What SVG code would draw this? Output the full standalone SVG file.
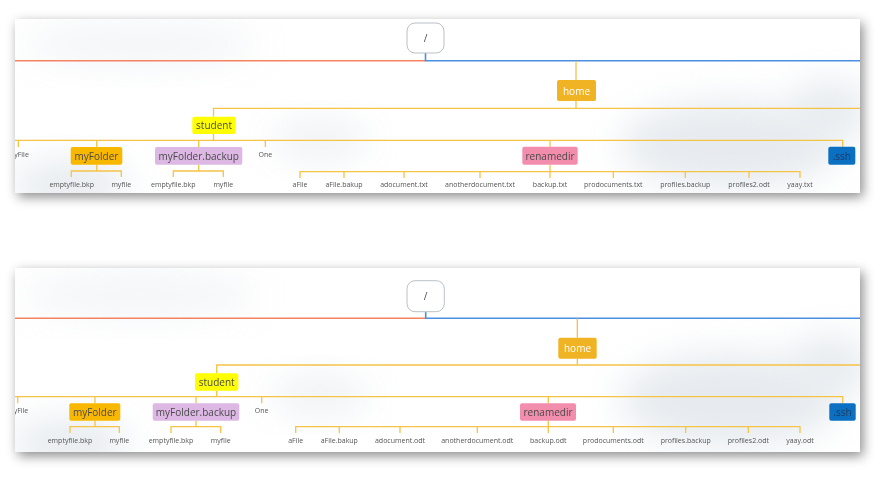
<svg xmlns="http://www.w3.org/2000/svg" width="887" height="486" viewBox="0 0 887 486">
<defs>
<filter id="shadow" x="-10%" y="-20%" width="120%" height="150%">
<feDropShadow dx="3" dy="4" stdDeviation="6" flood-color="#000" flood-opacity="0.45"/>
</filter>
<filter id="blur" x="-50%" y="-50%" width="200%" height="200%">
<feGaussianBlur stdDeviation="18"/>
</filter>
<clipPath id="c1"><rect x="15" y="19" width="845" height="174"/></clipPath>
<clipPath id="c2"><rect x="15" y="268" width="845" height="184"/></clipPath>
</defs>
<style>
.card{fill:#ffffff}
.cloud{fill:#c9d3dc;filter:url(#blur)}
.org{stroke:#f4845f;stroke-width:1.6;fill:none}
.blu{stroke:#4a8fe0;stroke-width:1.6;fill:none}
.yel{stroke:#f5c445;stroke-width:1.3;fill:none}
.root{fill:#ffffff;stroke:#b9c0c8;stroke-width:1}
.nt{font-family:"Open Sans","Noto Sans",sans-serif;font-size:10px;fill:#4a4a4a;text-anchor:middle;dominant-baseline:central}
.lf{font-family:"Open Sans","Noto Sans",sans-serif;font-size:7px;fill:#555;text-anchor:middle;dominant-baseline:central}
.home{fill:#f0b323}
.student{fill:#ffff00}
.myf{fill:#f9b800}
.mfb{fill:#ddb8e4}
.ren{fill:#f28dae}
.ssh{fill:#0b6fc2}
</style>
<rect width="887" height="486" fill="#ffffff"/>
<rect class="card" x="15" y="19" width="845" height="174" filter="url(#shadow)"/>
<rect class="card" x="15" y="268" width="845" height="184" filter="url(#shadow)"/>

<g id="panel-top" clip-path="url(#c1)">
<g id="bg-top" opacity="0.45">
<ellipse class="cloud" cx="140" cy="45" rx="120" ry="22" opacity="0.5"/>
<ellipse class="cloud" cx="70" cy="185" rx="60" ry="25"/>
<ellipse class="cloud" cx="320" cy="140" rx="50" ry="20" opacity="0.7"/>
<ellipse class="cloud" cx="730" cy="145" rx="110" ry="45"/>
<ellipse class="cloud" cx="830" cy="110" rx="40" ry="30"/>
</g>
<g id="connectors-top">
<path class="org" d="M15 60.7H425.5"/>
<path class="blu" d="M425.5 53V60.7H860"/>
<path class="yel" d="M576 61V80M576 101V108.3"/>
<path class="yel" d="M213.5 116.7V108.3H860"/>
<path class="yel" d="M213.5 134V140.3"/>
<path class="yel" d="M10 140.3H842.7V146.7"/>
<path class="yel" d="M18.3 140.3V147M96.7 140.3V147M198.7 140.3V147M265.3 140.3V147M550 140.3V146.7"/>
<path class="yel" d="M96.7 164.7V171M71.3 177V171H121.3V177"/>
<path class="yel" d="M198.7 164.7V171M173.3 177V171H223.3V177"/>
<path class="yel" d="M550 164.7V178M300 178V171.7H800V178M344 171.7V178M404 171.7V178M480 171.7V178M613.3 171.7V178M685.3 171.7V178M749 171.7V178"/>
</g>
<g id="root-top"><rect class="root" x="407" y="23" width="37" height="30" rx="8"/><text class="nt" x="425.5" y="38">/</text></g>
<g id="home-top"><rect class="home" x="557" y="80" width="39" height="21" rx="2"/><text class="nt" x="576.5" y="90.5" style="fill:#fff">home</text></g>
<g id="student-top"><rect class="student" x="192.3" y="116.7" width="43.4" height="17.3" rx="2"/><text class="nt" x="214" y="125.3">student</text></g>
<g id="myFile-top"><text class="lf" x="18.3" y="154.3">myFile</text></g>
<g id="myFolder-top"><rect class="myf" x="70.7" y="147" width="51.6" height="17.7" rx="2"/><text class="nt" x="96.5" y="155.8">myFolder</text></g>
<g id="myFolderBackup-top"><rect class="mfb" x="155" y="147" width="87.3" height="17.7" rx="2"/><text class="nt" x="198.7" y="155.8">myFolder.backup</text></g>
<g id="One-top"><text class="lf" x="265.3" y="154.3">One</text></g>
<g id="renamedir-top"><rect class="ren" x="522.3" y="146.7" width="55.4" height="18" rx="2"/><text class="nt" x="550" y="155.7">renamedir</text></g>
<g id="ssh-top"><rect class="ssh" x="828.3" y="146.7" width="27" height="18" rx="2"/><text class="nt" x="841.8" y="155.7" style="fill:#1c3b63">.ssh</text></g>
<g id="leaves-top">
<text class="lf" x="71.7" y="184.3">emptyfile.bkp</text>
<text class="lf" x="121.3" y="184.3">myfile</text>
<text class="lf" x="173.3" y="184.3">emptyfile.bkp</text>
<text class="lf" x="223.3" y="184.3">myfile</text>
<text class="lf" x="300" y="184.3">aFile</text>
<text class="lf" x="344" y="184.3">aFile.bakup</text>
<text class="lf" x="404" y="184.3">adocument.txt</text>
<text class="lf" x="480" y="184.3">anotherdocument.txt</text>
<text class="lf" x="550" y="184.3">backup.txt</text>
<text class="lf" x="613.3" y="184.3">prodocuments.txt</text>
<text class="lf" x="685.3" y="184.3">profiles.backup</text>
<text class="lf" x="749" y="184.3">profiles2.odt</text>
<text class="lf" x="800" y="184.3">yaay.txt</text>
</g>
</g>

<g id="panel-bottom" clip-path="url(#c2)">
<g id="bg-bottom" opacity="0.45">
<ellipse class="cloud" cx="140" cy="295" rx="120" ry="22" opacity="0.5"/>
<ellipse class="cloud" cx="70" cy="443" rx="60" ry="25"/>
<ellipse class="cloud" cx="320" cy="395" rx="50" ry="20" opacity="0.7"/>
<ellipse class="cloud" cx="730" cy="400" rx="110" ry="48"/>
<ellipse class="cloud" cx="830" cy="365" rx="40" ry="30"/>
</g>
<g id="connectors-bottom">
<path class="org" d="M15 318.3H425.7"/>
<path class="blu" d="M425.7 311.7V318.3H860"/>
<path class="yel" d="M577.3 318.5V337.7M577.3 358.7V365"/>
<path class="yel" d="M216.7 373.3V365H860"/>
<path class="yel" d="M216.7 390.7V396.7"/>
<path class="yel" d="M10 396.7H842.7V403.3"/>
<path class="yel" d="M17.7 396.7V403.3M95 396.7V403.3M196 396.7V403.3M261.7 396.7V403.3M548.3 396.7V403.3"/>
<path class="yel" d="M95 420.7V426.7M70 433V426.7H119.3V433"/>
<path class="yel" d="M196 420.7V426.7M171 433V426.7H220.7V433"/>
<path class="yel" d="M548.3 420.7V433M295.7 433V426.7H800V433M339.3 426.7V433M400 426.7V433M477.3 426.7V433M613.3 426.7V433M685.7 426.7V433M748.3 426.7V433"/>
</g>
<g id="root-bottom"><rect class="root" x="407" y="280.7" width="37.3" height="31" rx="8"/><text class="nt" x="425.7" y="296.2">/</text></g>
<g id="home-bottom"><rect class="home" x="558.3" y="337.7" width="38.4" height="21" rx="2"/><text class="nt" x="577.5" y="348.2" style="fill:#fff">home</text></g>
<g id="student-bottom"><rect class="student" x="195" y="373.3" width="43.3" height="17.4" rx="2"/><text class="nt" x="216.7" y="382">student</text></g>
<g id="myFile-bottom"><text class="lf" x="17.7" y="410.3">myFile</text></g>
<g id="myFolder-bottom"><rect class="myf" x="69.3" y="403.3" width="51" height="17.4" rx="2"/><text class="nt" x="94.8" y="412">myFolder</text></g>
<g id="myFolderBackup-bottom"><rect class="mfb" x="152.7" y="403.3" width="86.6" height="17.4" rx="2"/><text class="nt" x="196" y="412">myFolder.backup</text></g>
<g id="One-bottom"><text class="lf" x="261.7" y="410.3">One</text></g>
<g id="renamedir-bottom"><rect class="ren" x="520" y="403.3" width="56" height="17.4" rx="2"/><text class="nt" x="548" y="412">renamedir</text></g>
<g id="ssh-bottom"><rect class="ssh" x="829.3" y="403.3" width="26.4" height="17.4" rx="2"/><text class="nt" x="842.5" y="412" style="fill:#1c3b63">.ssh</text></g>
<g id="leaves-bottom">
<text class="lf" x="70" y="440.3">emptyfile.bkp</text>
<text class="lf" x="119.3" y="440.3">myfile</text>
<text class="lf" x="171" y="440.3">emptyfile.bkp</text>
<text class="lf" x="220.7" y="440.3">myfile</text>
<text class="lf" x="295.7" y="440.3">aFile</text>
<text class="lf" x="339.3" y="440.3">aFile.bakup</text>
<text class="lf" x="400" y="440.3">adocument.odt</text>
<text class="lf" x="477.3" y="440.3">anotherdocument.odt</text>
<text class="lf" x="548.3" y="440.3">backup.odt</text>
<text class="lf" x="613.3" y="440.3">prodocuments.odt</text>
<text class="lf" x="685.7" y="440.3">profiles.backup</text>
<text class="lf" x="748.3" y="440.3">profiles2.odt</text>
<text class="lf" x="800" y="440.3">yaay.odt</text>
</g>
</g>
</svg>
